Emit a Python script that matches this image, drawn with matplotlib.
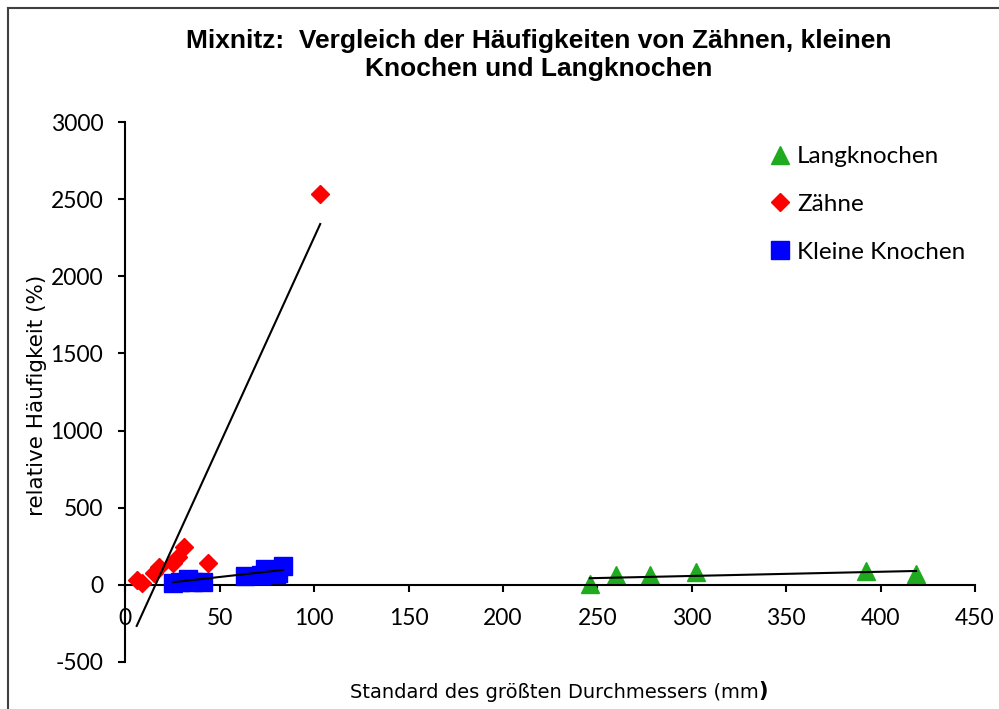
import matplotlib
matplotlib.use("Agg")
import matplotlib.pyplot as plt
from matplotlib.lines import Line2D
import numpy as np

plt.rcParams["axes.unicode_minus"] = False

# values
lang_x = [246, 260, 277.6, 302.3, 392.4, 418.8]
lang_y = [7, 63, 63, 81, 90, 70]

zaehne_x = [6, 9, 15, 18, 25, 28, 31, 44, 103.2]
zaehne_y = [32, 15, 76, 118, 140, 183, 245, 140, 2532]

klein_x = [25.4, 29, 33, 36, 41, 63.5, 72, 74, 80, 81, 83.5]
klein_y = [13, 20, 39, 20, 20, 58, 65, 100, 70, 80, 125]

# linear trendlines (slope, intercept) as shown in the chart
lang_trend = [0.272, -23.9]
zaehne_trend = [26.8, -427.0]
klein_trend = [1.366, -17.2]

x_ticks = list(range(0, 451, 50))
y_ticks = list(range(-500, 3001, 500))

title = "Mixnitz:  Vergleich der Häufigkeiten von Zähnen, kleinen\nKnochen und Langknochen"
xlabel = "Standard des größten Durchmessers (mm"
ylabel = "relative Häufigkeit (%)"

green = "#1faa1f"
red = "#ff0000"
blue = "#0000ff"

fig = plt.figure(figsize=(9.99, 7.09), dpi=100)
ax = fig.add_axes([0.1255, 0.0663, 0.8505, 0.7616])

ax.plot(lang_x, lang_y, linestyle="none", marker="^", markersize=12.7,
        color=green, label="Langknochen", zorder=2)
ax.plot(zaehne_x, zaehne_y, linestyle="none", marker="D", markersize=9.3,
        color=red, label="Zähne", zorder=3)
ax.plot(klein_x, klein_y, linestyle="none", marker="s", markersize=13.3,
        color=blue, label="Kleine Knochen", zorder=4)

for xs, tr in [(lang_x, lang_trend), (zaehne_x, zaehne_trend), (klein_x, klein_trend)]:
    xx = np.array([min(xs), max(xs)])
    ax.plot(xx, tr[0] * xx + tr[1], color="black", linewidth=1.5, zorder=5)

ax.set_xlim(0, 450)
ax.set_ylim(-500, 3000)
ax.set_xticks(x_ticks)
ax.set_yticks(y_ticks)
ax.spines["top"].set_visible(False)
ax.spines["right"].set_visible(False)
ax.spines["bottom"].set_position(("data", 0))
ax.spines["bottom"].set_linewidth(1.5)
ax.spines["left"].set_linewidth(1.5)
ax.tick_params(axis="x", direction="out", length=5, width=1.5, pad=12,
               labelsize=16.5, labelfontfamily="Lato")
ax.tick_params(axis="y", direction="out", length=5, width=1.5, pad=11,
               labelsize=16.5, labelfontfamily="Lato")

fig.text(0.539, 1 - 55 / 709, title, ha="center", va="center",
         fontsize=19, fontweight="bold", family="Liberation Sans", linespacing=1.25)

xl = fig.text(0.555, 1 - 692 / 709, xlabel, ha="center", va="center",
              fontsize=14, family="DejaVu Sans")
ax.annotate(")", xy=(1, 0), xycoords=xl, ha="left", va="bottom",
            fontsize=15, fontweight="bold", family="DejaVu Sans")
fig.text(37 / 999, 1 - 395 / 709, ylabel, rotation=90, ha="center", va="center",
         fontsize=15.5, family="DejaVu Sans")

ax.legend(loc="upper left", bbox_to_anchor=(758 / 999, 1 - 134 / 709),
          bbox_transform=fig.transFigure, frameon=False, borderpad=0,
          prop={"family": "Lato", "size": 17.5}, handlelength=0.8,
          handletextpad=0.3, labelspacing=1.1, markerscale=1.0)

# chart area border (only top and left visible in the crop)
fig.add_artist(Line2D([7.5 / 999, 1], [1 - 7.5 / 709] * 2, color="#404040",
                      linewidth=1.5, transform=fig.transFigure))
fig.add_artist(Line2D([7.5 / 999] * 2, [0, 1 - 7.5 / 709], color="#404040",
                      linewidth=1.5, transform=fig.transFigure))

fig.savefig("out.png", dpi=100)
